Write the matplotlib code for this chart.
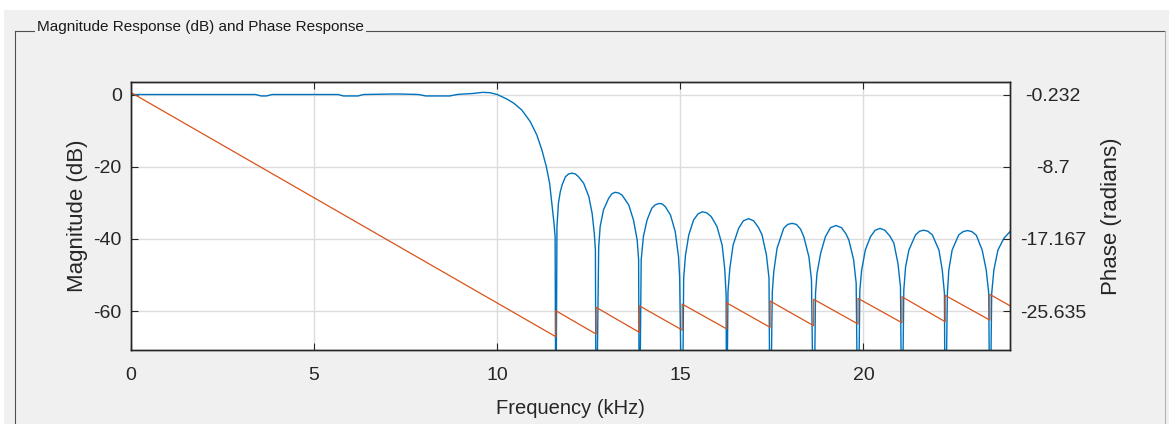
import matplotlib
matplotlib.use("Agg")
import matplotlib.pyplot as plt
from matplotlib.lines import Line2D
from matplotlib.patches import Rectangle

plt.rcParams.update({
    "font.family": ["Liberation Sans", "DejaVu Sans"],
    "axes.unicode_minus": False,
})

# ---- data (frequency in kHz, magnitude in dB) ----
passband_khz = [0.0, 1.5, 3.0, 3.4, 3.55, 3.7, 3.85, 5.0, 5.65, 5.8, 6.2, 6.35,
                6.9, 7.2, 7.5, 7.85, 8.05, 8.7, 8.9, 9.1, 9.35, 9.6, 9.8, 10.0]
passband_db = [0.0, 0.0, 0.0, 0.0, -0.4, -0.4, 0.0, 0.0, 0.0, -0.4, -0.4, 0.0,
               0.1, 0.15, 0.1, 0.0, -0.4, -0.4, 0.0, 0.15, 0.3, 0.6, 0.5, 0.0]

transition_khz = [10.27, 10.45, 10.67, 10.90, 11.08, 11.22, 11.34, 11.43, 11.49, 11.55, 11.58]
transition_db = [-1.3, -2.4, -4.3, -7.5, -11.2, -15.4, -20.0, -24.6, -30.2, -35.7, -39.4]

# stopband zeros (the curve drops out of the axes there)
null_khz = [11.60, 12.70, 13.88, 15.05, 16.26, 17.45, 18.64, 19.85, 21.05, 22.23, 23.45]
null_db = -100.0

# one list per sidelobe, between consecutive zeros
lobe_khz = [
    [11.63, 11.67, 11.72, 11.77, 11.86, 11.95, 12.04, 12.13, 12.22, 12.36, 12.50, 12.59, 12.65, 12.68],
    [12.77, 12.81, 12.90, 13.04, 13.13, 13.22, 13.32, 13.41, 13.59, 13.72, 13.82, 13.86],
    [13.93, 13.99, 14.09, 14.22, 14.31, 14.41, 14.50, 14.59, 14.73, 14.86, 14.95, 14.98],
    [15.09, 15.14, 15.23, 15.36, 15.48, 15.60, 15.72, 15.84, 16.00, 16.14, 16.21, 16.25],
    [16.30, 16.35, 16.44, 16.59, 16.72, 16.86, 17.00, 17.13, 17.23, 17.35, 17.42],
    [17.51, 17.55, 17.64, 17.82, 17.93, 18.05, 18.17, 18.28, 18.37, 18.51, 18.58],
    [18.69, 18.73, 18.83, 18.96, 19.10, 19.25, 19.40, 19.52, 19.60, 19.73, 19.80],
    [19.90, 19.95, 20.05, 20.19, 20.32, 20.45, 20.58, 20.72, 20.83, 20.94, 21.01],
    [21.10, 21.15, 21.24, 21.42, 21.53, 21.64, 21.76, 21.88, 22.06, 22.15, 22.21],
    [22.29, 22.33, 22.42, 22.60, 22.72, 22.84, 22.96, 23.08, 23.24, 23.35, 23.42],
    [23.50, 23.56, 23.67, 23.83, 24.0],
]
lobe_db = [
    [-36.6, -30.2, -27.0, -25.1, -22.8, -22.0, -21.8, -22.0, -22.8, -24.6, -28.3, -32.9, -38.5, -43.1],
    [-42.2, -36.6, -32.0, -28.8, -27.5, -27.1, -27.3, -27.9, -30.6, -34.8, -40.3, -45.8],
    [-45.8, -39.4, -34.8, -31.5, -30.6, -30.2, -30.3, -31.1, -33.4, -38.0, -45.0, -50.5],
    [-50.9, -44.5, -38.9, -34.8, -33.1, -32.5, -32.8, -33.8, -36.6, -41.7, -48.2, -55.6],
    [-54.7, -48.2, -41.7, -37.1, -35.0, -34.4, -35.0, -36.8, -38.9, -44.5, -50.9],
    [-54.7, -49.1, -42.6, -37.1, -36.0, -35.7, -36.0, -37.3, -39.4, -45.0, -51.4],
    [-55.1, -49.6, -44.0, -39.4, -36.9, -36.3, -36.9, -38.6, -40.3, -45.8, -52.3],
    [-54.2, -48.6, -43.1, -39.4, -37.6, -37.1, -37.6, -39.2, -41.2, -46.8, -53.3],
    [-54.2, -47.7, -43.1, -38.9, -37.9, -37.6, -37.9, -38.9, -43.1, -48.6, -55.1],
    [-55.1, -48.6, -43.1, -38.9, -38.0, -37.7, -38.0, -39.0, -43.1, -48.6, -55.1],
    [-55.1, -48.6, -43.1, -39.9, -38.0],
]

# phase (radians): linear, jumping up by ~pi at each zero
phase_start = 0.0
phase_before_null = [-28.65, -28.34, -28.14, -27.87, -27.72, -27.55,
                     -27.36, -27.16, -27.01, -26.89, -26.70]
phase_after_null = [-25.60, -25.20, -25.02, -24.82, -24.67, -24.46,
                    -24.26, -24.15, -23.96, -23.80, -23.68]
phase_end = -25.02

mag_ticks = [-60, -40, -20, 0]
phase_ticks = [-25.635, -17.167, -8.7, -0.232]
phase_tick_labels = ["-25.635", "-17.167", "-8.7", "-0.232"]
freq_ticks = [0, 5, 10, 15, 20]

# ---- build the curves ----
mag_f = list(passband_khz) + list(transition_khz)
mag_y = list(passband_db) + list(transition_db)
for nf, lf, ld in zip(null_khz, lobe_khz, lobe_db):
    mag_f += [nf] + lf
    mag_y += [null_db] + ld

ph_f = [0.0]
ph_y = [phase_start]
for nf, pb, pa in zip(null_khz, phase_before_null, phase_after_null):
    ph_f += [nf, nf]
    ph_y += [pb, pa]
ph_f.append(24.0)
ph_y.append(phase_end)

# ---- figure ----
W, H = 1169, 424
BG = "#F0F0F0"
DARK = "#262626"
BLUE = "#0072BD"
ORANGE = "#D95319"


def fx(x):
    return x / W


def fy(y):
    return 1 - y / H


fig = plt.figure(figsize=(W / 100, H / 100), dpi=100, facecolor="white")
fig.patches.append(Rectangle((fx(4), 0), 1 - fx(4), fy(10), transform=fig.transFigure,
                             facecolor=BG, edgecolor="none", zorder=-5))

# panel frame
fig.lines.append(Line2D([fx(15), fx(15)], [fy(30.7), 0], transform=fig.transFigure,
                        color="#505050", lw=0.8))
fig.lines.append(Line2D([fx(15), fx(1165)], [fy(30.7), fy(30.7)], transform=fig.transFigure,
                        color="#505050", lw=0.8))
fig.lines.append(Line2D([fx(1165), fx(1165)], [fy(30.7), 0], transform=fig.transFigure,
                        color="#B4B4B4", lw=0.8))
fig.text(fx(37), fy(31.5), "Magnitude Response (dB) and Phase Response", fontsize=11,
         va="baseline", ha="left", color="#1a1a1a",
         bbox=dict(facecolor=BG, edgecolor="none", pad=1.5))

ax = fig.add_axes([fx(131), fy(350), fx(1010) - fx(131), fy(81.7) - fy(350)])
ax.set_facecolor("white")
ax.plot(mag_f, mag_y, color=BLUE, lw=1.0)

ylo, yhi = -70.8, 3.55
ax.set_xlim(0, 24)
ax.set_ylim(ylo, yhi)
ax.set_xticks(freq_ticks)
ax.set_yticks(mag_ticks)
ax.grid(True, color="#DCDCDC", lw=1.0)
ax.set_axisbelow(True)
for s in ax.spines.values():
    s.set_color(DARK)
    s.set_linewidth(1.0)
ax.tick_params(direction="in", length=5, width=0.8, colors=DARK, labelsize=14)
ax.tick_params(axis="x", top=True, pad=12)
ax.tick_params(axis="y", right=False, pad=6.7)

ax.set_xlabel("Frequency (kHz)", fontsize=14.5, color=DARK, va="center")
ax.xaxis.set_label_coords(0.5, (350 - 408) / (350 - 81.7))
ax.set_ylabel("Magnitude (dB)", fontsize=16, color=DARK, va="center")
ax.yaxis.set_label_coords((77 - 131) / (1010 - 131), 0.5)

# phase axis: linear map so its ticks sit on the magnitude ticks
slope = (phase_ticks[-1] - phase_ticks[0]) / (mag_ticks[-1] - mag_ticks[0])
ax2 = ax.twinx()
ax2.plot(ph_f, ph_y, color=ORANGE, lw=0.9)
ax2.set_ylim(phase_ticks[-1] + slope * (ylo - mag_ticks[-1]),
             phase_ticks[-1] + slope * (yhi - mag_ticks[-1]))
ax2.set_yticks(phase_ticks)
ax2.set_yticklabels(phase_tick_labels)
ax2.tick_params(direction="in", length=5, width=0.8, colors=DARK, labelsize=14, pad=31)
for lbl in ax2.get_yticklabels():
    lbl.set_horizontalalignment("center")
for s in ax2.spines.values():
    s.set_color(DARK)
    s.set_linewidth(1.0)
ax2.set_ylabel("Phase (radians)", fontsize=16, color=DARK, va="center", rotation=90)
ax2.yaxis.set_label_coords((1112 - 131) / (1010 - 131), 0.5)

fig.savefig("out.png", dpi=100, facecolor=fig.get_facecolor())
